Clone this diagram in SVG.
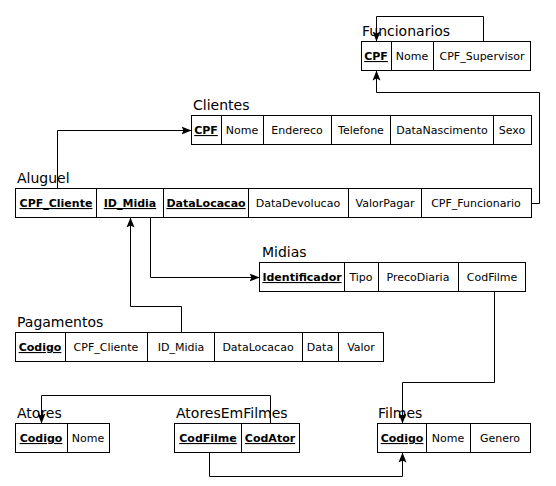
<svg xmlns="http://www.w3.org/2000/svg" width="556" height="486" viewBox="0 0 556 486">
<style>
.bg{fill:#fff}
.box{fill:#fff;stroke:#000;stroke-width:1}
.div{stroke:#000;stroke-width:1}
.t{font-family:"DejaVu Sans","Liberation Sans",sans-serif;font-size:14px;fill:#000}
.c{font-family:"DejaVu Sans","Liberation Sans",sans-serif;font-size:11px;fill:#000;text-anchor:middle}
.k{font-weight:bold;text-decoration:underline}
.conn path{fill:none;stroke:#000;stroke-width:1}
</style>
<defs>
<marker id="arr" markerUnits="userSpaceOnUse" markerWidth="10" markerHeight="10" viewBox="0 0 10 10" refX="10" refY="5" orient="auto">
<path d="M0,1 L10,5 L0,9 L2,5 Z" fill="#000"/>
</marker>
</defs>
<rect class="bg" x="0" y="0" width="556" height="486"/>

<g id="Funcionarios">
<text class="t" x="362" y="36">Funcionarios</text>
<rect class="box" x="361.5" y="41.5" width="169" height="29"/>
<path class="div" d="M391.5,41.5V70.5M433.5,41.5V70.5"/>
<text class="c k" x="376" y="60">CPF</text>
<text class="c" x="412" y="60">Nome</text>
<text class="c" x="482" y="60">CPF_Supervisor</text>
</g>

<g id="Clientes">
<text class="t" x="193" y="110">Clientes</text>
<rect class="box" x="191.5" y="115.5" width="340" height="29"/>
<path class="div" d="M221.5,115.5V144.5M263.5,115.5V144.5M331.5,115.5V144.5M390.5,115.5V144.5M493.5,115.5V144.5"/>
<text class="c k" x="206" y="134">CPF</text>
<text class="c" x="242" y="134">Nome</text>
<text class="c" x="297" y="134">Endereco</text>
<text class="c" x="361" y="134">Telefone</text>
<text class="c" x="442" y="134">DataNascimento</text>
<text class="c" x="512" y="134">Sexo</text>
</g>

<g id="Aluguel">
<text class="t" x="17" y="183">Aluguel</text>
<rect class="box" x="15.5" y="188.5" width="516" height="29"/>
<path class="div" d="M96.5,188.5V217.5M163.5,188.5V217.5M248.5,188.5V217.5M348.5,188.5V217.5M421.5,188.5V217.5"/>
<text class="c k" x="56" y="207">CPF_Cliente</text>
<text class="c k" x="130" y="207">ID_Midia</text>
<text class="c k" x="206" y="207">DataLocacao</text>
<text class="c" x="298" y="207">DataDevolucao</text>
<text class="c" x="385" y="207">ValorPagar</text>
<text class="c" x="476" y="207">CPF_Funcionario</text>
</g>

<g id="Midias">
<text class="t" x="262" y="257">Midias</text>
<rect class="box" x="259.5" y="262.5" width="266" height="29"/>
<path class="div" d="M344.5,262.5V291.5M378.5,262.5V291.5M458.5,262.5V291.5"/>
<text class="c k" x="302" y="281">Identificador</text>
<text class="c" x="361" y="281">Tipo</text>
<text class="c" x="418" y="281">PrecoDiaria</text>
<text class="c" x="492" y="281">CodFilme</text>
</g>

<g id="Pagamentos">
<text class="t" x="17" y="327">Pagamentos</text>
<rect class="box" x="15.5" y="332.5" width="368" height="29"/>
<path class="div" d="M65.5,332.5V361.5M147.5,332.5V361.5M214.5,332.5V361.5M302.5,332.5V361.5M338.5,332.5V361.5"/>
<text class="c k" x="40" y="351">Codigo</text>
<text class="c" x="106" y="351">CPF_Cliente</text>
<text class="c" x="181" y="351">ID_Midia</text>
<text class="c" x="258" y="351">DataLocacao</text>
<text class="c" x="320" y="351">Data</text>
<text class="c" x="361" y="351">Valor</text>
</g>

<g id="Atores">
<text class="t" x="17" y="418">Atores</text>
<rect class="box" x="15.5" y="423.5" width="94" height="29"/>
<path class="div" d="M67.5,423.5V452.5"/>
<text class="c k" x="41" y="442">Codigo</text>
<text class="c" x="88" y="442">Nome</text>
</g>

<g id="AtoresEmFilmes">
<text class="t" x="176" y="418">AtoresEmFilmes</text>
<rect class="box" x="174.5" y="423.5" width="125" height="29"/>
<path class="div" d="M241.5,423.5V452.5"/>
<text class="c k" x="208" y="442">CodFilme</text>
<text class="c k" x="270" y="442">CodAtor</text>
</g>

<g id="Filmes">
<text class="t" x="378" y="418">Filmes</text>
<rect class="box" x="377.5" y="423.5" width="153" height="29"/>
<path class="div" d="M426.5,423.5V452.5M470.5,423.5V452.5"/>
<text class="c k" x="402" y="442">Codigo</text>
<text class="c" x="448" y="442">Nome</text>
<text class="c" x="500" y="442">Genero</text>
</g>

<g id="connectors" class="conn">
<path d="M483.5,41.5V16.5H376.5V41.5" marker-end="url(#arr)"/>
<path d="M531.5,203.5H539.5V92.5H376.5V70.5" marker-end="url(#arr)"/>
<path d="M57.5,188.5V130.5H191.5" marker-end="url(#arr)"/>
<path d="M150.5,217.5V277.5H259.5" marker-end="url(#arr)"/>
<path d="M181.5,332.5V306.5H130.5V217.5" marker-end="url(#arr)"/>
<path d="M494.5,291.5V382.5H402.5V423.5" marker-end="url(#arr)"/>
<path d="M270.5,423.5V395.5H41.5V423.5" marker-end="url(#arr)"/>
<path d="M209.5,452.5V476.5H402.5V452.5" marker-end="url(#arr)"/>
</g>
</svg>
